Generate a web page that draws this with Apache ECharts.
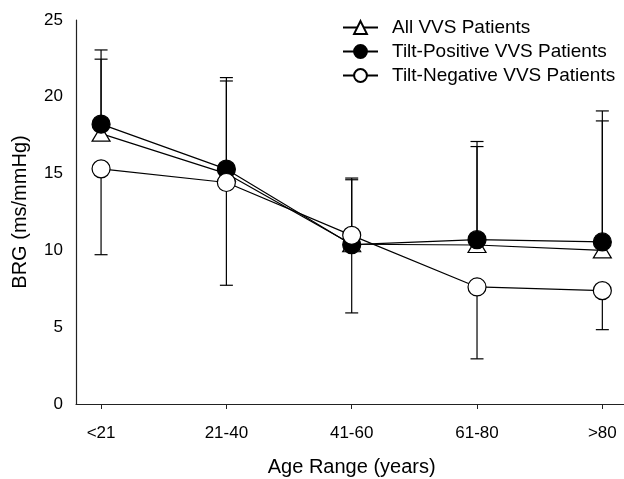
<!DOCTYPE html>
<html>
<head>
<meta charset="utf-8">
<script src="https://cdn.jsdelivr.net/npm/echarts@6/dist/echarts.min.js"></script>
<style>html,body{margin:0;padding:0;background:#fff}#c{width:624px;height:479px}</style>
</head>
<body>
<div id="c"></div>
<script>
var categories = ['<21', '21-40', '41-60', '61-80', '>80'];
var allMean = [17.6, 15.0, 10.4, 10.35, 10.0];
var allUpper = [22.45, 21.03, 14.6, 16.76, 18.43];
var posMean = [18.22, 15.29, 10.37, 10.70, 10.55];
var posUpper = [23.05, 21.25, 14.71, 17.09, 19.08];
var negMean = [15.31, 14.42, 10.98, 7.62, 7.38];
var negLower = [9.72, 7.73, 5.93, 2.94, 4.84];
var yTicks = [0, 5, 10, 15, 20, 25];

var FONT = 'Liberation Sans, Arial, sans-serif';

function pts(arr) { return arr.map(function (v, i) { return [i, v]; }); }
function errData(mean, end) { return mean.map(function (m, i) { return [i, m, end[i]]; }); }

function renderErr(params, api) {
  var x = api.value(0);
  var p0 = api.coord([x, api.value(1)]);
  var p1 = api.coord([x, api.value(2)]);
  var hw = 6.5;
  var st = { stroke: '#000', lineWidth: 1.2 };
  return {
    type: 'group',
    children: [
      { type: 'line', shape: { x1: p0[0], y1: p0[1], x2: p1[0], y2: p1[1] }, style: st },
      { type: 'line', shape: { x1: p1[0] - hw, y1: p1[1], x2: p1[0] + hw, y2: p1[1] }, style: st }
    ]
  };
}

var chart = echarts.init(document.getElementById('c'));
var lineStyle = { color: '#000', width: 1.2 };
chart.setOption({
  animation: false,
  backgroundColor: '#fff',
  textStyle: { fontFamily: FONT },
  grid: { left: 76, top: 20, bottom: 75, width: 551.4, outerBoundsMode: 'none', containLabel: false },
  legend: {
    orient: 'vertical',
    left: 337, top: 13,
    itemWidth: 35, itemHeight: 16, itemGap: 5,
    textStyle: { fontSize: 19, color: '#000', fontFamily: FONT, padding: [0, 0, 0, 9] },
    data: ['All VVS Patients', 'Tilt-Positive VVS Patients', 'Tilt-Negative VVS Patients']
  },
  xAxis: {
    type: 'value', min: -0.2, max: 4.2,
    name: 'Age Range (years)', nameLocation: 'middle', nameGap: 53,
    nameTextStyle: { fontSize: 20, color: '#000', fontFamily: FONT },
    axisLine: { onZero: false, lineStyle: { color: '#222', width: 1.2 } },
    axisTick: { show: true, length: 5, customValues: [0, 1, 2, 3, 4], lineStyle: { color: '#222' } },
    axisLabel: { customValues: [0, 1, 2, 3, 4], formatter: function (v) { return categories[Math.round(v)]; },
      fontSize: 17, color: '#000', margin: 21, fontFamily: FONT },
    splitLine: { show: false }
  },
  yAxis: {
    type: 'value', min: 0, max: 25, interval: 5,
    name: 'BRG (ms/mmHg)', nameLocation: 'middle', nameGap: 46, nameRotate: 90,
    nameTextStyle: { fontSize: 20, color: '#000', fontFamily: FONT },
    axisLine: { show: true, onZero: false, lineStyle: { color: '#222', width: 1.2 } },
    axisTick: { show: false },
    axisLabel: { fontSize: 17, color: '#000', margin: 13, fontFamily: FONT,
      customValues: yTicks },
    splitLine: { show: false }
  },
  series: [
    { type: 'custom', renderItem: renderErr, data: errData(allMean, allUpper), z: 1, silent: true },
    { type: 'custom', renderItem: renderErr, data: errData(posMean, posUpper), z: 1, silent: true },
    { type: 'custom', renderItem: renderErr, data: errData(negMean, negLower), z: 1, silent: true },
    { name: 'All VVS Patients', type: 'line', data: pts(allMean), symbol: 'triangle', symbolSize: [18, 15],
      showAllSymbol: true, lineStyle: lineStyle, itemStyle: { color: '#fff', borderColor: '#000', borderWidth: 1.2 }, z: 3 },
    { name: 'Tilt-Positive VVS Patients', type: 'line', data: pts(posMean), symbol: 'circle', symbolSize: 18,
      showAllSymbol: true, lineStyle: lineStyle, itemStyle: { color: '#000', borderColor: '#000', borderWidth: 1.2 }, z: 4 },
    { name: 'Tilt-Negative VVS Patients', type: 'line', data: pts(negMean), symbol: 'circle', symbolSize: 18,
      showAllSymbol: true, lineStyle: lineStyle, itemStyle: { color: '#fff', borderColor: '#000', borderWidth: 1.2 }, z: 5 }
  ]
});
</script>
</body>
</html>
